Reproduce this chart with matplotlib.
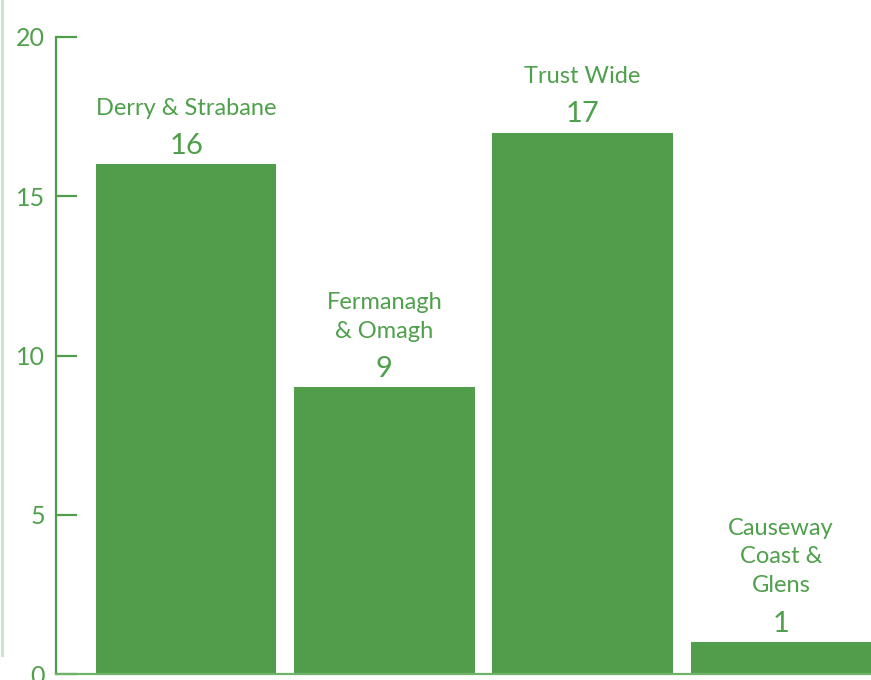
import matplotlib
matplotlib.use("Agg")
import matplotlib.pyplot as plt
from matplotlib.lines import Line2D

categories = ["Derry & Strabane", "Fermanagh\n& Omagh", "Trust Wide", "Causeway\nCoast &\nGlens"]
values = [16, 9, 17, 1]
yticks = [0, 5, 10, 15, 20]

GREEN = "#509e4c"
TEXT = "#4fa04b"
plt.rcParams['font.family'] = ['Lato', 'DejaVu Sans']

fig = plt.figure(figsize=(8.71, 6.80), dpi=100)
ax = fig.add_axes([56/871, 6/680, 1 - 56/871, 637/680])

x = list(range(len(categories)))
ax.bar(x, values, width=0.91, color=GREEN)
ax.set_xlim(-0.657, 3.455)
ax.set_ylim(0, 20)
ax.set_yticks(yticks)
ax.set_xticks([])

for s in ['top', 'right']:
    ax.spines[s].set_visible(False)
ax.spines['left'].set_color(GREEN)
ax.spines['left'].set_linewidth(1.6)
ax.spines['bottom'].set_color("#6fb36b")
ax.spines['bottom'].set_linewidth(1.6)
ax.tick_params(axis='y', direction='in', length=15, width=1.6, color=GREEN,
               labelcolor=TEXT, labelsize=18, pad=8)

for xi, v, c in zip(x, values, categories):
    ax.annotate(str(v), (xi, v), xytext=(0, 7.5), textcoords='offset points',
                ha='center', va='baseline', fontsize=21, color=TEXT, clip_on=False)
    ax.annotate(c, (xi, v), xytext=(0, 33), textcoords='offset points',
                ha='center', va='bottom', fontsize=17, color=TEXT,
                linespacing=1.46, multialignment='center', clip_on=False)

fig.add_artist(Line2D([1.5/871, 1.5/871], [1, 25/680], transform=fig.transFigure,
                      color="#c8e6c8", linewidth=2.2))

fig.savefig("out.png", dpi=100)
